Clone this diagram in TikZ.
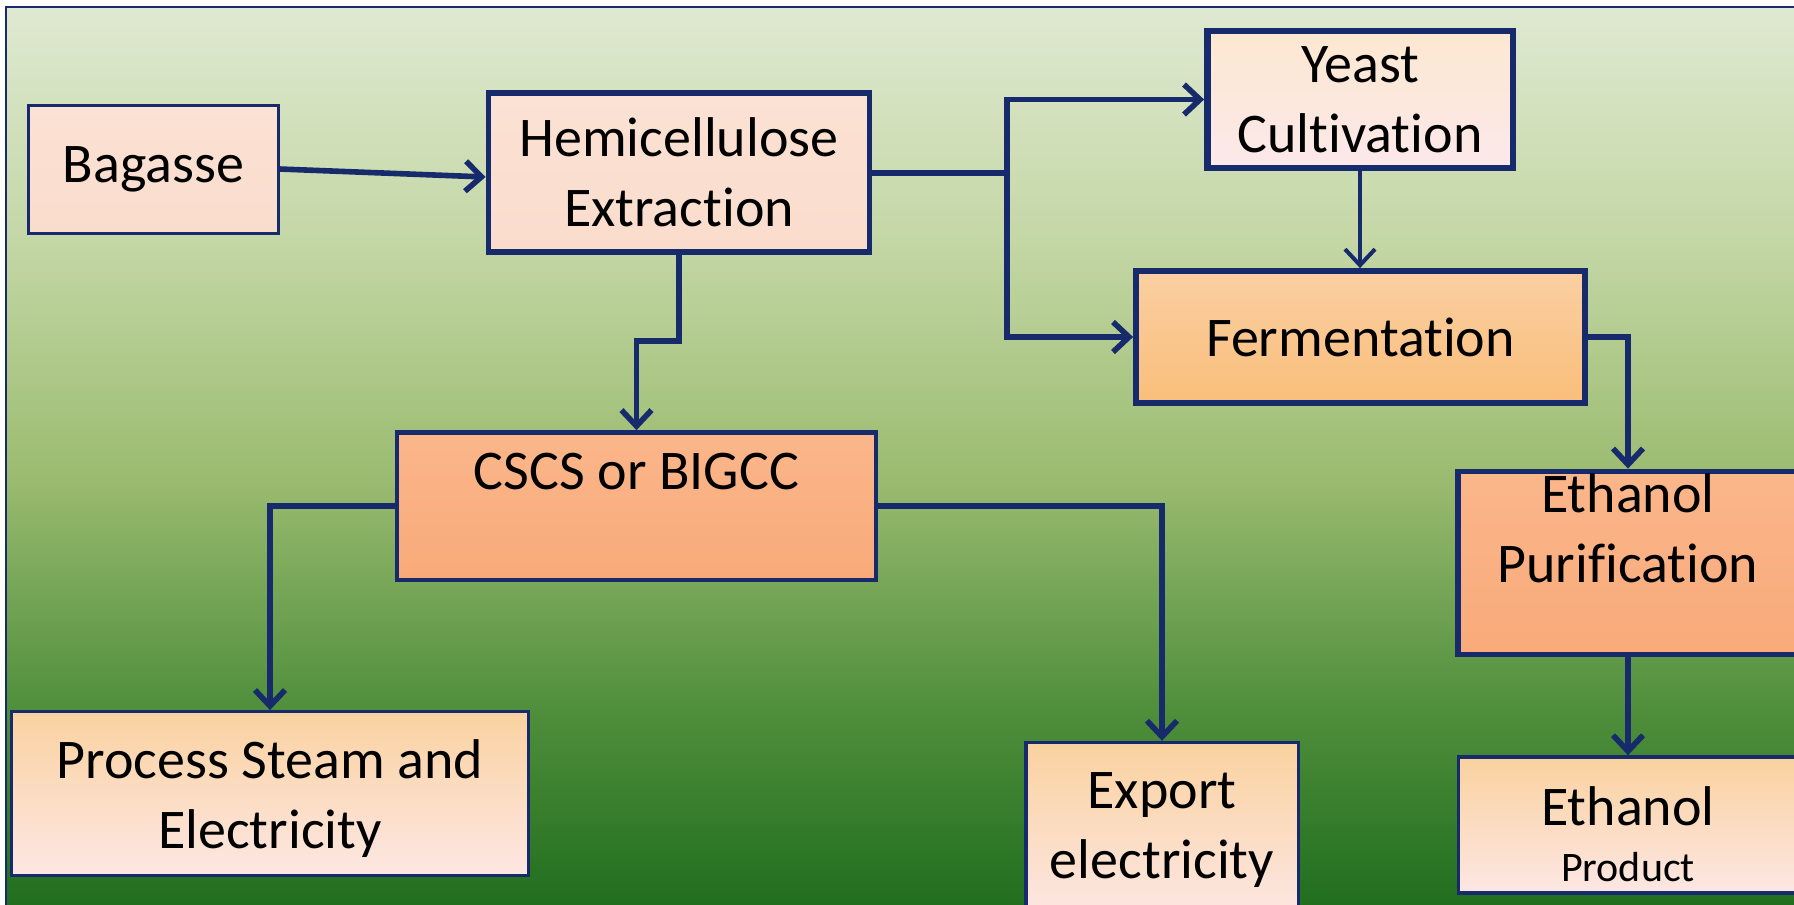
\documentclass[tikz,border=0pt]{standalone}
\usepackage{fontspec}
\setmainfont{Carlito}[Ligatures=NoCommon]
\usetikzlibrary{arrows.meta}
\definecolor{navy}{RGB}{22,42,108}
\definecolor{bgA}{RGB}{223,233,209}
\definecolor{bgA2}{RGB}{196,215,166}
\definecolor{bgB}{RGB}{156,188,113}
\definecolor{bgC}{RGB}{80,143,60}
\definecolor{bgD}{RGB}{24,104,26}
\definecolor{pinkT}{RGB}{251,226,212}
\definecolor{pinkM}{RGB}{253,230,232}
\definecolor{pinkB}{RGB}{250,220,204}
\definecolor{yeT}{RGB}{252,232,208}
\definecolor{yeB}{RGB}{252,232,234}
\definecolor{feT}{RGB}{250,207,162}
\definecolor{feB}{RGB}{250,190,122}
\definecolor{saT}{RGB}{250,182,138}
\definecolor{saB}{RGB}{249,170,122}
\definecolor{orT}{RGB}{250,210,160}
\definecolor{orB}{RGB}{253,231,228}
\pgfdeclareverticalshading{bgsh}{100bp}{color(0bp)=(bgD); color(25bp)=(bgD); color(37.5bp)=(bgC); color(50bp)=(bgB); color(62.5bp)=(bgA2); color(75bp)=(bgA); color(100bp)=(bgA)}
\tikzset{
  box/.style={draw=navy, rectangle, align=center, inner sep=0pt,
    font=\fontsize{28}{35}\selectfont},
  thinb/.style={line width=1.5pt},
  thickb/.style={line width=2.9pt},
  flow/.style={draw=navy, line width=2.8pt, line join=miter,
    -{Straight Barb[length=8pt,width=15pt]}},
  thinflow/.style={flow, line width=2pt}
}
\begin{document}
\begin{tikzpicture}[x=0.5pt,y=-0.5pt]
\useasboundingbox (0,0) rectangle (1794,905);
\begin{scope}
\clip (0,0) rectangle (1794,905);
\fill[white] (0,0) rectangle (1794,905);
\shade[shading=bgsh, draw=navy, line width=1.4pt] (6,7) rectangle (1830,940);

\node[box, thinb, minimum width=124.7pt, minimum height=64pt,
  top color=pinkT, middle color=pinkM, bottom color=pinkB] (bag) at (153.3,169) {Bagasse};
\node[box, thickb, minimum width=190.5pt, minimum height=79.5pt,
  top color=pinkT, middle color=pinkM, bottom color=pinkB] (hemi) at (679,172.2) {Hemicellulose\\Extraction};
\node[box, line width=3.2pt, minimum width=152.7pt, minimum height=68.5pt,
  top color=yeT, bottom color=yeB] (yeast) at (1360,99.5) {Yeast\\Cultivation};
\node[box, thickb, minimum width=224.5pt, minimum height=66pt,
  top color=feT, bottom color=feB] (ferm) at (1360.5,337) {Fermentation};
\node[box, line width=2.3pt, minimum width=239.5pt, minimum height=73.7pt,
  top color=saT, bottom color=saB] (cscs) at (636.5,506.2) {CSCS or BIGCC\\~};
\node[box, thinb, minimum width=258.6pt, minimum height=81.7pt,
  top color=orT, bottom color=orB] (ps) at (270,793.3) {\rule{0pt}{25pt}Process Steam and\\Electricity};
\node[box, line width=1.7pt, minimum width=136.2pt, minimum height=88pt,
  top color=orT, bottom color=orB] (exp) at (1162,830.5) {Export\\electricity};
\node[box, thickb, minimum width=170pt, minimum height=91.5pt,
  top color=saT, bottom color=saB] (ep) at (1628,563) {Ethanol\\Purification\\~};
\node[box, line width=1.7pt, minimum width=169.5pt, minimum height=68pt,
  top color=orT, bottom color=orB] (prod) at (1628,825) {\rule{0pt}{29pt}Ethanol\\[-7pt]{\fontsize{21}{26}\selectfont Product}};

\coordinate (j) at (1007,173);
\coordinate (h1) at (679,341);

\draw[flow] (bag.east) -- ([yshift=-2.4pt]hemi.west);
\draw[flow, -] (hemi.east |- j) -- (j);
\draw[flow] (j) |- (yeast.west);
\draw[flow] (j) |- (ferm.west);
\draw[thinflow] (yeast.south) -- (yeast.south |- ferm.north);
\draw[flow] (ferm.east) -| (ep.north);
\draw[flow] (ep.south) -- (prod.north);
\draw[flow] (hemi.south) -- (h1) -| (cscs.north);
\draw[flow] (cscs.west) -| (ps.north);
\draw[flow] (cscs.east) -| (exp.north);
\end{scope}
\end{tikzpicture}
\end{document}
